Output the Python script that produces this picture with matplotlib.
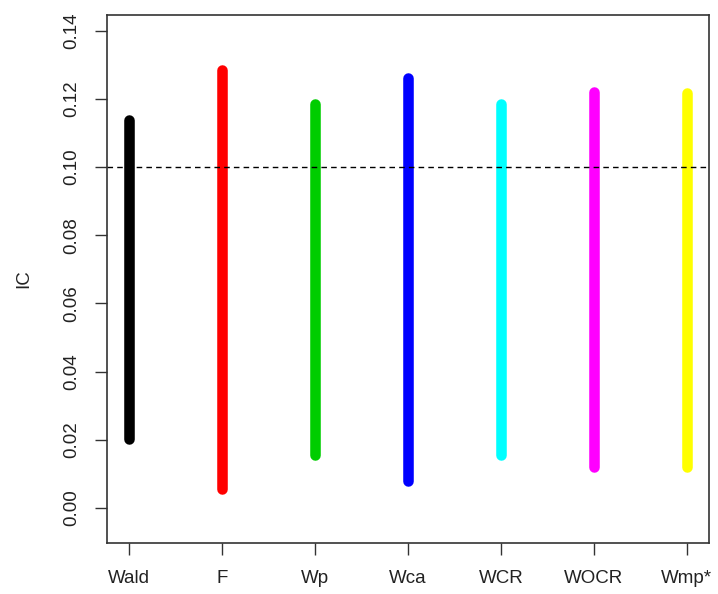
import numpy as np
import matplotlib
matplotlib.use("Agg")
from matplotlib import pyplot as plt

plt.rcParams['font.family'] = ['Liberation Sans', 'DejaVu Sans']

# interval limits for each statistic
tests = ['Wald', 'F', 'Wp', 'Wca', 'WCR', 'WOCR', 'Wmp*']
lower = [0.0202, 0.0056, 0.0155, 0.0079, 0.0155, 0.0121, 0.0121]
upper = [0.1138, 0.1284, 0.1185, 0.1262, 0.1185, 0.1220, 0.1216]
colors = ['black', 'red', '#00CD00', 'blue', 'cyan', 'magenta', 'yellow']
nominal = 0.10

fig = plt.figure(figsize=(7.18, 5.94), dpi=100)
ax = fig.add_axes([0.149, 0.0859, 0.8385, 0.8888])

x = np.arange(1, len(tests) + 1)
for xi, lo, hi, c in zip(x, lower, upper, colors):
    ax.plot([xi, xi], [lo, hi], color=c, lw=7.6, solid_capstyle='round')

ax.axhline(nominal, color='black', lw=1, linestyle=(0, (4, 3)))

ax.set_xlim(0.76, 7.24)
ax.set_ylim(-0.0103, 0.1446)
ax.set_xticks(x)
ax.set_xticklabels(tests)
ax.set_yticks(np.arange(0, 0.141, 0.02))
ax.set_yticklabels(['%.2f' % v for v in np.arange(0, 0.141, 0.02)],
                   rotation=90, va='center')
ax.tick_params(axis='both', length=8.6, width=1, color='#333333',
               labelsize=13.5, labelcolor='#222222')
ax.tick_params(axis='x', pad=11)
ax.tick_params(axis='y', pad=11)
for s in ax.spines.values():
    s.set_linewidth(1.2)
    s.set_color('#333333')

ax.set_ylabel('IC', fontsize=13.5, labelpad=22, color='#222222')

fig.savefig('out.png', dpi=100)
